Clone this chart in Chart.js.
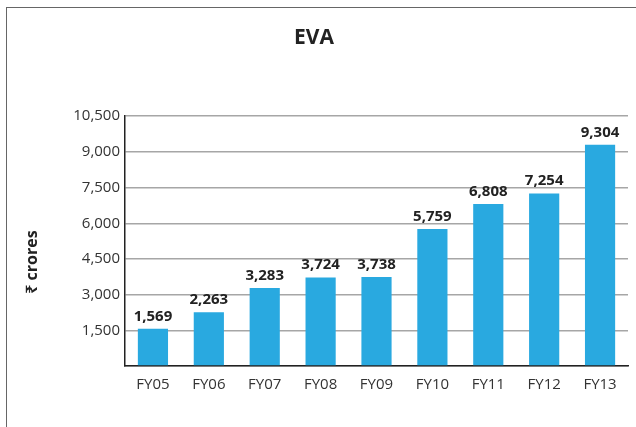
<!DOCTYPE html>
<html>
<head>
<meta charset="utf-8">
<title>EVA</title>
<script src="https://cdn.jsdelivr.net/npm/chart.js@4.4.0/dist/chart.umd.min.js"></script>
<style>
	html, body { margin: 0; padding: 0; background: #fff; overflow: hidden; }
	#frame {
		position: absolute; left: 6px; top: 7px; width: 640px; height: 430px;
		border-left: 1.5px solid #666; border-top: 1.5px solid #666;
	}
	#chart { position: absolute; left: 0; top: 0; }
</style>
</head>
<body>
<div id="frame"></div>
<canvas id="chart" width="636" height="427"></canvas>
<script>
// --- Data ---
const years = ['FY05', 'FY06', 'FY07', 'FY08', 'FY09', 'FY10', 'FY11', 'FY12', 'FY13'];
const evaValues = [1569, 2263, 3283, 3724, 3738, 5759, 6808, 7254, 9304];
const yTickValues = [1500, 3000, 4500, 6000, 7500, 9000, 10500];
const chartTitle = 'EVA';
const yAxisTitle = '₹ crores';

const FONT = "'Open Sans', 'Noto Sans', 'DejaVu Sans', sans-serif";
const fmt = v => v.toLocaleString('en-US');

// value labels above the bars
const barLabels = {
	id: 'barLabels',
	afterDatasetsDraw(chart) {
		const ctx = chart.ctx;
		const meta = chart.getDatasetMeta(0);
		ctx.save();
		ctx.font = 'bold 15px ' + FONT;
		ctx.fillStyle = '#222';
		ctx.textAlign = 'center';
		ctx.textBaseline = 'alphabetic';
		meta.data.forEach((bar, i) => {
			ctx.fillText(fmt(evaValues[i]), bar.x, bar.y - 8);
		});
		ctx.restore();
	}
};

// rotated y axis title, sitting a bit below the middle of the axis
const yTitle = {
	id: 'yTitle',
	afterDraw(chart) {
		const ctx = chart.ctx;
		const area = chart.chartArea;
		ctx.save();
		ctx.translate(area.left - 93, area.bottom - 104);
		ctx.rotate(-Math.PI / 2);
		ctx.font = 'bold 16px ' + FONT;
		ctx.fillStyle = '#222';
		ctx.textAlign = 'center';
		ctx.textBaseline = 'middle';
		ctx.fillText(yAxisTitle, 0, 0);
		ctx.restore();
	}
};

new Chart(document.getElementById('chart'), {
	type: 'bar',
	data: {
		labels: years,
		datasets: [{
			data: evaValues,
			backgroundColor: '#29a9e0',
			borderWidth: 0,
			barPercentage: 0.54,
			categoryPercentage: 1
		}]
	},
	options: {
		responsive: false,
		animation: false,
		layout: { padding: { left: 0, right: 8, top: 0, bottom: 0 } },
		plugins: {
			legend: { display: false },
			tooltip: { enabled: false },
			title: {
				display: true,
				text: chartTitle,
				color: '#222',
				font: { family: FONT, size: 21, weight: 'bold' },
				padding: { top: 25, bottom: 66 }
			}
		},
		scales: {
			x: {
				grid: { display: false },
				border: { display: true, color: '#222', width: 1.5 },
				ticks: { color: '#333', font: { family: FONT, size: 15 }, padding: 2, maxRotation: 0 },
				afterFit: s => { s.height = 61; }
			},
			y: {
				min: 0,
				max: 10500,
				afterBuildTicks: s => { s.ticks = [0, ...yTickValues].map(v => ({ value: v })); },
				grid: { color: '#a6a6a6', lineWidth: 1.5, drawTicks: false },
				border: { display: true, color: '#222', width: 1.5 },
				ticks: {
					color: '#333',
					font: { family: FONT, size: 15 },
					padding: 5,
					callback: v => v === 0 ? '' : fmt(v)
				},
				afterFit: s => { s.width = 125; }
			}
		}
	},
	plugins: [barLabels, yTitle]
});
</script>
</body>
</html>
